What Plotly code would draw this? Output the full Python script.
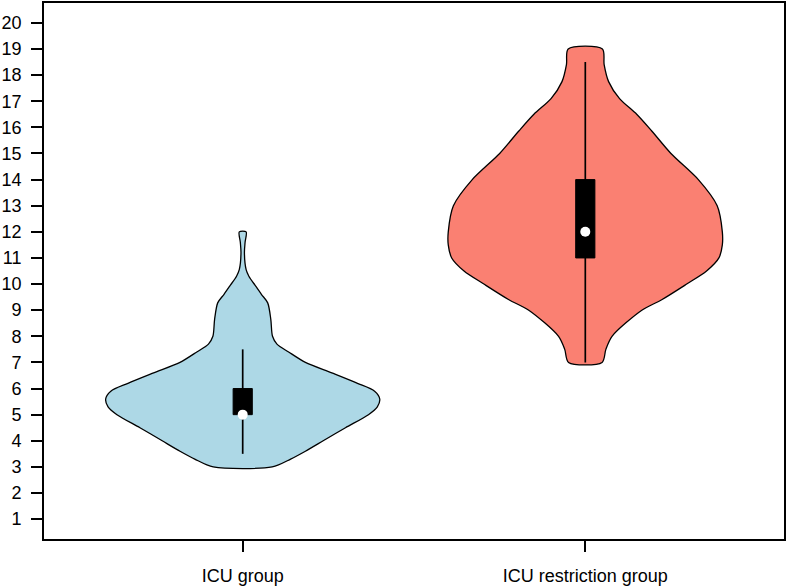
import plotly.graph_objects as go

# ---- data ----
groups = ["ICU group", "ICU restriction group"]
positions = [1, 2]
fill_colors = ["#ADD8E6", "#FA8072"]

# violin outline: value levels and half-widths (x units)
icu_levels = [3.0, 3.3, 3.6, 4.0, 4.5, 5.0, 5.3, 5.6, 5.9, 6.2, 6.6, 7.0, 7.4, 7.7, 8.0, 8.65, 9.28, 9.6, 9.92, 10.3, 10.55, 11.2, 11.6, 12.0]
icu_halfw  = [0.086, 0.14, 0.183, 0.235, 0.30, 0.367, 0.393, 0.40, 0.385, 0.335, 0.26, 0.183, 0.134, 0.10, 0.087, 0.082, 0.073, 0.055, 0.038, 0.018, 0.01, 0.005, 0.007, 0.01]

res_levels = [7.0, 7.5, 8.0, 9.0, 9.4, 10.0, 10.5, 11.0, 11.5, 12.0, 13.0, 14.0, 15.0, 15.86, 16.5, 17.1, 17.75, 18.4, 19.0]
res_halfw  = [0.049, 0.06, 0.078, 0.165, 0.223, 0.296, 0.354, 0.39, 0.40, 0.40, 0.385, 0.33, 0.25, 0.194, 0.15, 0.10, 0.068, 0.055, 0.05]

# box statistics
q1 = [5, 11]
q3 = [6, 14]
medians = [5, 12]
whisk_lo = [3.5, 7]
whisk_hi = [7.5, 18.5]
box_halfw = 0.028

y_ticks = list(range(1, 21))

fig = go.Figure()

for pos, lev, hw, col in [(positions[0], icu_levels, icu_halfw, fill_colors[0]),
                          (positions[1], res_levels, res_halfw, fill_colors[1])]:
    xs = [pos + w for w in hw] + [pos - w for w in reversed(hw)] + [pos + hw[0]]
    ys = list(lev) + list(reversed(lev)) + [lev[0]]
    fig.add_trace(go.Scatter(x=xs, y=ys, mode="lines", fill="toself", fillcolor=col,
                             line=dict(color="black", width=1.3, shape="spline", smoothing=0.8),
                             hoverinfo="skip", showlegend=False))

for i, pos in enumerate(positions):
    # whisker
    fig.add_trace(go.Scatter(x=[pos, pos], y=[whisk_lo[i], whisk_hi[i]], mode="lines",
                             line=dict(color="black", width=1.7), showlegend=False, hoverinfo="skip"))
    # box
    fig.add_trace(go.Scatter(x=[pos - box_halfw, pos + box_halfw, pos + box_halfw, pos - box_halfw, pos - box_halfw],
                             y=[q1[i], q1[i], q3[i], q3[i], q1[i]], mode="lines", fill="toself",
                             fillcolor="black", line=dict(color="black", width=1),
                             showlegend=False, hoverinfo="skip"))
    # median
    fig.add_trace(go.Scatter(x=[pos], y=[medians[i]], mode="markers",
                             marker=dict(color="white", size=10, line=dict(width=0)),
                             showlegend=False, hoverinfo="skip"))

axis_font = dict(family="Liberation Sans, Arial, Helvetica, sans-serif", size=18, color="black")

fig.update_layout(
    width=787, height=587,
    margin=dict(l=43, r=1, t=1, b=45),
    plot_bgcolor="white", paper_bgcolor="white",
    xaxis=dict(range=[0.42, 2.58], tickvals=positions, ticktext=groups, showgrid=False, zeroline=False,
               ticks="outside", ticklen=11, tickwidth=1.5, tickcolor="black",
               showline=True, linecolor="black", linewidth=1.8, mirror=True,
               tickfont=axis_font, ticklabelstandoff=8),
    yaxis=dict(range=[0.24, 20.76], tickvals=y_ticks, showgrid=False, zeroline=False,
               ticks="outside", ticklen=11, tickwidth=1.5, tickcolor="black",
               showline=True, linecolor="black", linewidth=1.8, mirror=True,
               tickfont=axis_font, ticklabelstandoff=6),
)

fig.write_html("out.html",
               config={"displayModeBar": False},
               post_script="document.body.style.margin='0';document.body.style.overflow='hidden';")
